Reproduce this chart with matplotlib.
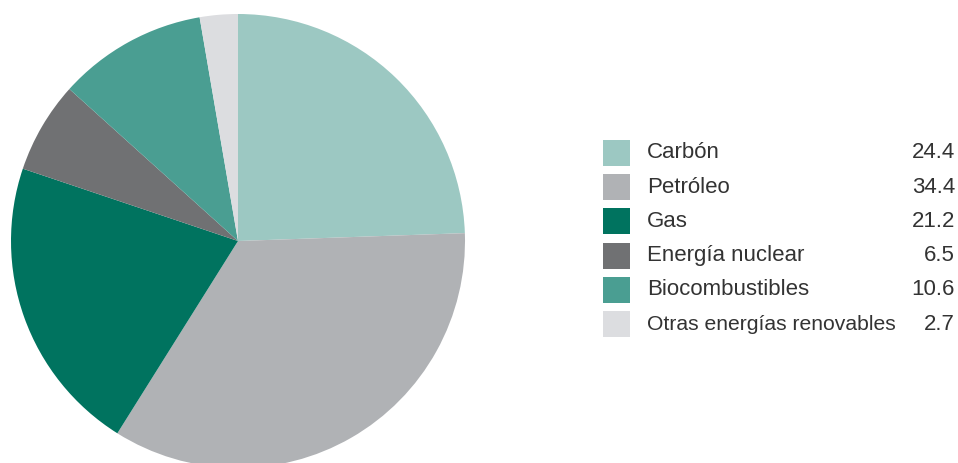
import matplotlib
matplotlib.use("Agg")
import matplotlib.pyplot as plt
from matplotlib.patches import Rectangle

categories = ["Carbón", "Petróleo", "Gas", "Energía nuclear", "Biocombustibles", "Otras energías renovables"]
values = [24.4, 34.4, 21.2, 6.5, 10.6, 2.7]
value_labels = ["24.4", "34.4", "21.2", "6.5", "10.6", "2.7"]
colors = ["#9cc8c2", "#b0b2b5", "#00735f", "#707173", "#4a9e92", "#dcdde0"]

W, H = 958, 463
fig = plt.figure(figsize=(W / 100, H / 100), dpi=100)
fig.patch.set_facecolor("white")

cx, cy, r = 238, 241, 227
ax = fig.add_axes([(cx - r) / W, (H - (cy + r)) / H, 2 * r / W, 2 * r / H])
ax.pie(values, colors=colors, startangle=90, counterclock=False, radius=1,
       wedgeprops=dict(linewidth=0))
ax.set_xlim(-1, 1)
ax.set_ylim(-1, 1)
ax.set_aspect("equal")
ax.axis("off")

y0, dy = 153, 34.2
for i, (cat, lab, col) in enumerate(zip(categories, value_labels, colors)):
    yc = y0 + i * dy
    fig.patches.append(Rectangle((603 / W, (H - yc - 13) / H), 27 / W, 26 / H,
                                 transform=fig.transFigure, facecolor=col,
                                 edgecolor="none"))
    fs = 15.2 if i == 5 else 16
    fig.text(647 / W, (H - yc) / H, cat, fontsize=fs, family="Liberation Sans",
             color="#333333", va="center", ha="left")
    fig.text(955 / W, (H - yc) / H, lab, fontsize=16, family="Liberation Sans",
             color="#333333", va="center", ha="right")

fig.savefig("out.png", dpi=100)
